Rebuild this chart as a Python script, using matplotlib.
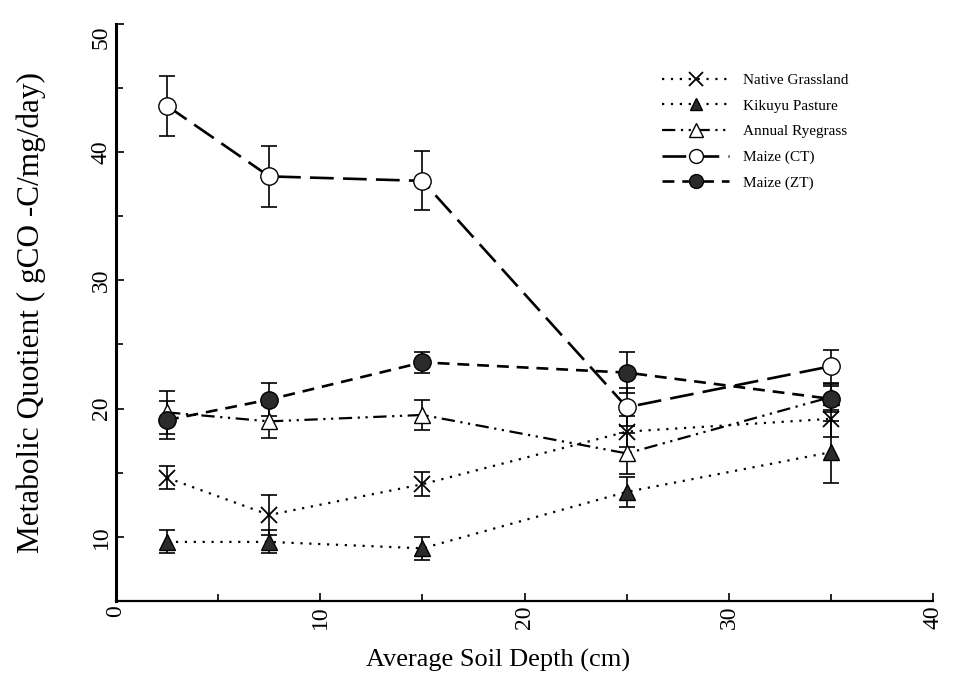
import numpy as np
import matplotlib.pyplot as plt
from matplotlib.ticker import MultipleLocator
from matplotlib.transforms import ScaledTranslation

plt.rcParams['font.family'] = ['Liberation Serif', 'DejaVu Serif']

# soil depth midpoints (cm)
depth = [2.5, 7.5, 15, 25, 35]

native_grassland = [14.6, 11.7, 14.1, 18.2, 19.2]
native_grassland_err = [0.9, 1.55, 0.95, 1.2, 1.4]

kikuyu_pasture = [9.6, 9.6, 9.1, 13.5, 16.6]
kikuyu_pasture_err = [0.9, 0.9, 0.9, 1.2, 2.4]

annual_ryegrass = [19.7, 19.0, 19.5, 16.5, 20.9]
annual_ryegrass_err = [1.7, 1.3, 1.15, 1.6, 1.0]

maize_ct = [43.6, 38.1, 37.75, 20.1, 23.3]
maize_ct_err = [2.35, 2.35, 2.3, 1.5, 1.3]

maize_zt = [19.1, 20.7, 23.6, 22.8, 20.75]
maize_zt_err = [1.5, 1.3, 0.8, 1.6, 1.0]

fig = plt.figure(figsize=(9.56, 6.79), dpi=100)
ax = fig.add_axes([0.1213, 0.115, 0.855, 0.850])

series = [
    ("Native Grassland", native_grassland, native_grassland_err,
     dict(marker='x', ms=12, mew=1.3, mfc='none', ls=(0, (1, 3)), lw=1.6)),
    ("Kikuyu Pasture", kikuyu_pasture, kikuyu_pasture_err,
     dict(marker='^', ms=11, mfc='#2b2b2b', ls=(0, (1, 3)), lw=1.6)),
    ("Annual Ryegrass", annual_ryegrass, annual_ryegrass_err,
     dict(marker='^', ms=12, mfc='white', ls=(0, (6, 2.5, 1, 2.5, 1, 2.5)), lw=1.6)),
    ("Maize (CT)", maize_ct, maize_ct_err,
     dict(marker='o', ms=12.5, mfc='white', ls=(0, (9, 3.5)), lw=1.9)),
    ("Maize (ZT)", maize_zt, maize_zt_err,
     dict(marker='o', ms=12.5, mfc='#2b2b2b', ls=(0, (4.5, 3)), lw=1.9)),
]

handles = []
for name, vals, err, style in series:
    ax.errorbar(depth, vals, yerr=err, fmt='none', ecolor='black',
                elinewidth=1.2, capsize=6, capthick=1.2, zorder=2)
    h, = ax.plot(depth, vals, color='black', mec='black', label=name,
                 zorder=3, **style)
    handles.append(h)

ax.set_xlim(0, 40)
ax.set_ylim(5, 50)
ax.xaxis.set_major_locator(MultipleLocator(10))
ax.xaxis.set_minor_locator(MultipleLocator(5))
ax.yaxis.set_major_locator(MultipleLocator(10))
ax.yaxis.set_minor_locator(MultipleLocator(5))

ax.spines['top'].set_visible(False)
ax.spines['right'].set_visible(False)
ax.spines['left'].set_linewidth(2.2)
ax.spines['bottom'].set_linewidth(1.6)
ax.tick_params(which='both', direction='in', width=1.2)
ax.tick_params(which='major', length=6)
ax.tick_params(which='minor', length=5)
ax.tick_params(axis='x', labelsize=17, labelrotation=90, pad=3)
ax.tick_params(axis='y', labelsize=17, labelrotation=90, pad=3)
fig.canvas.draw()
for lab in ax.get_yticklabels():
    lab.set_va('center')
    # top label sits a little below its tick
    if lab.get_text() == '50':
        lab.set_transform(lab.get_transform() +
                          ScaledTranslation(0, -10 / 72, fig.dpi_scale_trans))

ax.set_xlabel('Average Soil Depth (cm)', fontsize=19)
ax.xaxis.set_label_coords(0.467, -0.083)
ax.set_ylabel('Metabolic Quotient ( gCO -C/mg/day)', fontsize=22.5)
ax.yaxis.set_label_coords(-0.086, 0.5)

leg = ax.legend(handles=handles, loc='upper left', bbox_to_anchor=(0.678, 0.912),
                bbox_transform=fig.transFigure, frameon=False, fontsize=11,
                handlelength=4.4, handletextpad=0.9, labelspacing=0.78,
                markerscale=0.8)

fig.savefig('out.png', dpi=100)
